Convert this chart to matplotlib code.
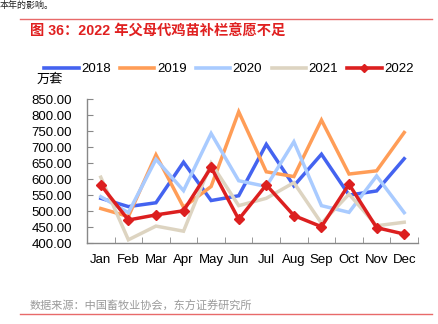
import matplotlib
matplotlib.use("Agg")
import matplotlib.pyplot as plt
from matplotlib.lines import Line2D

plt.rcParams['font.family'] = ['Liberation Sans', 'Noto Sans CJK SC', 'DejaVu Sans']

months = ['Jan', 'Feb', 'Mar', 'Apr', 'May', 'Jun', 'Jul', 'Aug', 'Sep', 'Oct', 'Nov', 'Dec']
y2018 = [540, 514, 526, 653, 533, 548, 709, 579, 678, 550, 563, 664]
y2019 = [508, 483, 676, 512, 577, 811, 623, 608, 785, 616, 626, 746]
y2020 = [545, 495, 662, 564, 743, 595, 577, 717, 517, 496, 610, 495]
y2021 = [606, 410, 453, 437, 650, 517, 540, 589, 462, 553, 454, 465]
y2022 = [582, 472, 488, 501, 637, 474, 582, 486, 451, 584, 448, 428]
yticks = [400, 450, 500, 550, 600, 650, 700, 750, 800, 850]

series = [
    ('2018', y2018, '#4463f0', None),
    ('2019', y2019, '#ff9d57', None),
    ('2020', y2020, '#a9cbff', None),
    ('2021', y2021, '#ddd4c1', None),
    ('2022', y2022, '#dc1f1f', 'D'),
]

fig = plt.figure(figsize=(4.39, 3.24), dpi=100)
ax = fig.add_axes([87 / 439, 1 - 243 / 324, 331 / 439, 143.7 / 324])

x = list(range(len(months)))
for name, vals, color, marker in series:
    ax.plot(x, vals, color=color, lw=2.5, marker=marker, ms=5,
            markeredgecolor=color, markerfacecolor=color, solid_joinstyle='miter')

ax.set_xlim(-0.5, len(months) - 0.5)
ax.set_ylim(400, 850)
ax.set_yticks(yticks)
ax.set_yticklabels([f'{v:.2f}' for v in yticks], fontsize=9.5)
ax.set_xticks(x)
ax.set_xticklabels(months, fontsize=9.5)
ax.set_xticks([i - 0.5 for i in range(len(months) + 1)], minor=True)
ax.tick_params(axis='x', which='major', length=0, pad=8)
ax.tick_params(axis='x', which='minor', direction='in', length=4, color='#888888')
ax.tick_params(axis='y', direction='in', length=4, color='#888888', pad=11)
for s in ['top', 'right']:
    ax.spines[s].set_visible(False)
for s in ['left', 'bottom']:
    ax.spines[s].set_color('#888888')
    ax.spines[s].set_linewidth(1.0)

# legend across the top
handles = [Line2D([0], [0], color=c, lw=2.6, marker=m, ms=4,
                  markerfacecolor=c, markeredgecolor=c) for _, _, c, m in series]
fig.legend(handles, [s[0] for s in series], loc='center', ncol=5,
           bbox_to_anchor=(229 / 439, 1 - 69 / 324), frameon=False, fontsize=9.5,
           handlelength=2.6, handletextpad=0.2, columnspacing=0.7)

fig.text(37 / 439, 1 - 80 / 324, '万套', fontsize=9.5, va='center', ha='left')

# header
fig.text(0 / 439, 1 - 0.5 / 324, '本年的影响。', fontsize=6.5, va='top', ha='left', color='#222222')
fig.add_artist(Line2D([20 / 439, 432 / 439], [1 - 19 / 324, 1 - 19 / 324],
                      color='#e86a6a', lw=1.0, transform=fig.transFigure))
fig.text(30 / 439, 1 - 31 / 324, '图 36：2022 年父母代鸡苗补栏意愿不足', fontsize=10.3,
         color='#e02020', fontweight='bold', va='center', ha='left')

# footer
fig.text(30 / 439, 1 - 306 / 324, '数据来源：中国畜牧业协会，东方证券研究所', fontsize=8,
         color='#9a9a9a', va='center', ha='left')
fig.add_artist(Line2D([20 / 439, 432 / 439], [1 - 314 / 324, 1 - 314 / 324],
                      color='#e86a6a', lw=1.0, transform=fig.transFigure))

fig.savefig('out.png', dpi=100)
